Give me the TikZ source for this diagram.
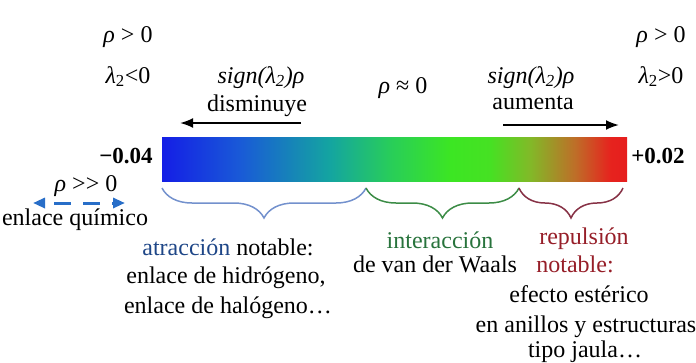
\documentclass[tikz,border=0pt]{standalone}
\usepackage{fontspec}
\setmainfont{LiberationSerif}[Extension=.ttf, UprightFont=*-Regular, BoldFont=*-Bold,
  ItalicFont=*-Italic, BoldItalicFont=*-BoldItalic]
\usetikzlibrary{arrows.meta, decorations.pathreplacing}

\definecolor{c0}{RGB}{20,30,230}
\definecolor{c1}{RGB}{25,90,215}
\definecolor{c2}{RGB}{20,165,160}
\definecolor{c3}{RGB}{40,205,90}
\definecolor{c4}{RGB}{60,230,35}
\definecolor{c5}{RGB}{70,225,35}
\definecolor{c6}{RGB}{130,185,40}
\definecolor{c7}{RGB}{190,110,40}
\definecolor{c8}{RGB}{230,35,30}
\definecolor{c9}{RGB}{230,30,30}
\definecolor{azulllave}{RGB}{115,145,205}
\definecolor{verdellave}{RGB}{60,140,70}
\definecolor{rojollave}{RGB}{135,50,70}
\definecolor{azultexto}{RGB}{30,70,135}
\definecolor{verdetexto}{RGB}{40,115,60}
\definecolor{rojotexto}{RGB}{150,30,40}
\definecolor{azulflecha}{RGB}{40,110,200}

\pgfdeclarehorizontalshading{nci}{100bp}{color(0bp)=(c0); color(25bp)=(c0);
  color(33.4bp)=(c1); color(43.1bp)=(c2); color(49.5bp)=(c3); color(56bp)=(c4);
  color(60.3bp)=(c5); color(64.6bp)=(c6); color(69.4bp)=(c7); color(73.2bp)=(c8);
  color(75bp)=(c9); color(100bp)=(c9)}

\begin{document}
\begin{tikzpicture}[x=1pt, y=-1pt,
    txt/.style={font=\fontsize{24}{28}\selectfont, inner sep=0pt, anchor=base},
    valor/.style={txt, font=\fontsize{23}{27}\selectfont\bfseries},
    flecha/.style={line width=2pt, -{Latex[length=13pt, width=10pt]}},
    llave/.style={line width=1.5pt, decorate, decoration={brace, mirror, amplitude=30pt}}]
      \useasboundingbox (0,0) rectangle (696,362);

      % 1. barra de colores
      \node[shading=nci, minimum width=465pt, minimum height=44pt, inner sep=0pt] (barra) at (394.5,159) {};
      \node[valor] (vmin) at (126,163) {−0.04};
      \node[valor] (vmax) at (658,163) {+0.02};

      % 2. lado izquierdo
      \node[txt] (rhoL) at (128,42) {\textit{ρ} > 0};
      \node[txt] (lamL) at (128,83) {\textit{λ}\textsubscript{2}<0};
      \node[txt] (signL) at (261,83) {\textit{sign(λ\textsubscript{2})ρ}};
      \node[txt] (dism) at (257,111) {disminuye};
      \coordinate (aL1) at (301,123);
      \coordinate (aL2) at (180,123);
      \draw[flecha] (aL1) -- (aL2);

      % 3. centro y lado derecho
      \node[txt] (rho0) at (403,93) {\textit{ρ} ≈ 0};
      \node[txt] (signR) at (531,83) {\textit{sign(λ\textsubscript{2})ρ}};
      \node[txt] (aum) at (533,109) {aumenta};
      \coordinate (aR1) at (503,125);
      \coordinate (aR2) at (619,125);
      \draw[flecha] (aR1) -- (aR2);
      \node[txt] (rhoR) at (661,42) {\textit{ρ} > 0};
      \node[txt] (lamR) at (661,83) {\textit{λ}\textsubscript{2}>0};

      % 4. enlace químico
      \node[txt] (rhoG) at (86,191) {\textit{ρ} >{}> 0};
      \coordinate (dA1) at (33,203);
      \coordinate (dA2) at (125,203);
      \draw[azulflecha, line width=3pt, dash pattern=on 17pt off 12pt, dash phase=19pt,
        {Triangle[length=12pt, width=10pt]}-{Triangle[length=12pt, width=10pt]}] (dA1) -- (dA2);
      \node[txt] (enlq) at (75,225) {enlace químico};

      % 5. llaves
      \coordinate (b0) at (162,188);
      \coordinate (b1) at (366,188);
      \coordinate (b2) at (519,188);
      \coordinate (b3) at (623,188);
      \draw[llave, azulllave] (b0) -- (b1);
      \draw[llave, verdellave] (b1) -- (b2);
      \draw[llave, rojollave] (b2) -- (b3);

      % 6. textos de las interacciones
      \node[txt] (atr) at (228,255) {\textcolor{azultexto}{atracción} notable:};
      \node[txt] (hidr) at (226,283) {enlace de hidrógeno,};
      \node[txt] (halo) at (228,313) {enlace de halógeno\ldots};
      \node[txt, text=verdetexto] (inter) at (440,248) {interacción};
      \node[txt] (vdw) at (435,272) {de van der Waals};
      \node[txt, text=rojotexto] (rep) at (584,244) {repulsión};
      \node[txt, text=rojotexto] (notr) at (575,272) {notable:};
      \node[txt] (efec) at (579,302) {efecto estérico};
      \node[txt] (anil) at (586,332) {en anillos y estructuras};
      \node[txt] (jaula) at (585,357) {tipo jaula\ldots};
    \end{tikzpicture}
\end{document}
